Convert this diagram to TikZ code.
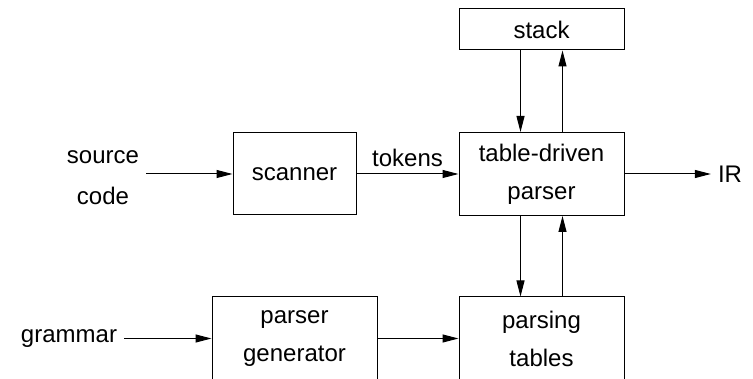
\documentclass[tikz,border=0pt]{standalone}
\usepackage{fontspec}
\setmainfont{Liberation Sans}
\usetikzlibrary{arrows.meta,positioning}

\begin{document}
\begin{tikzpicture}[->,>={Triangle[length=8pt,width=4pt]},auto,x=0.5pt,y=0.5pt,
                    line width=0.5pt,font=\fontsize{12}{19}\selectfont,
                    block/.style={draw,minimum width=82.5pt,minimum height=41.5pt,
                                  align=center,inner sep=0pt}]
                \useasboundingbox (0,0) rectangle (753,379);
                \node[block,minimum height=20.5pt] (stack) at (541.5,349.5) {stack};
                \node[block,minimum width=61.5pt,minimum height=41pt] (scanner) at (294.5,205) {scanner};
                \node[block] (parser) at (541.5,205) {table-driven\\parser};
                \node[block] (gen) at (294.5,40.5) {parser\\generator};
                \node[block] (tables) at (541.5,40.5) {parsing\\tables};
                \node[align=center,font=\fontsize{12}{20.5}\selectfont] (src) at (103,201.5) {source\\code};
                \node (grammar) at (69,40.5) {grammar};
                \node (ir) at (730,205) {IR};
                \path[->]
                (src.east |- scanner.west) edge (scanner.west)
                (scanner) edge node {tokens} (parser)
                (parser) edge (ir)
                ([xshift=-10.5pt]stack.south) edge ([xshift=-10.5pt]parser.north)
                ([xshift=10.5pt]parser.north) edge ([xshift=10.5pt]stack.south)
                ([xshift=-10.5pt]parser.south) edge ([xshift=-10.5pt]tables.north)
                ([xshift=10.5pt]tables.north) edge ([xshift=10.5pt]parser.south)
                (grammar) edge (gen)
                (gen) edge (tables);
                \end{tikzpicture}
\end{document}
